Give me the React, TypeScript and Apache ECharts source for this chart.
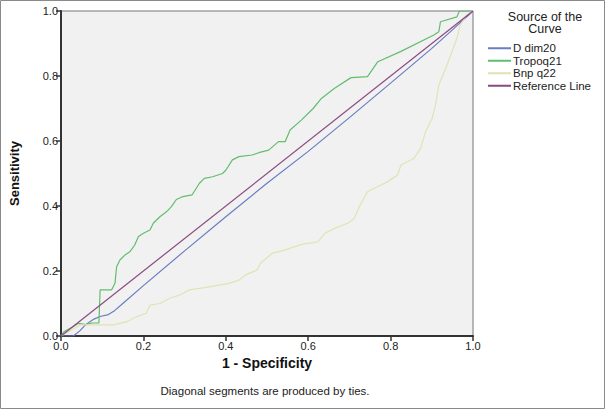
import React, { useEffect, useRef } from "react";
import * as echarts from "echarts";

const seriesNames = ["D dim20", "Tropoq21", "Bnp q22", "Reference Line"];
const xTicks = [0, 0.2, 0.4, 0.6, 0.8, 1.0];

const dDim20: number[][] = [
  [0, 0], [0.03, 0], [0.045, 0.015], [0.06, 0.035], [0.08, 0.052], [0.095, 0.06],
  [0.115, 0.066], [0.13, 0.078], [0.15, 0.1], [0.2, 0.155], [0.3, 0.262], [0.4, 0.367],
  [0.5, 0.47], [0.6, 0.568], [0.7, 0.672], [0.8, 0.778], [0.9, 0.885], [0.95, 0.942], [1, 1],
];

const tropoq21: number[][] = [
  [0, 0], [0.007, 0.013], [0.03, 0.029], [0.043, 0.039], [0.06, 0.035], [0.075, 0.04],
  [0.092, 0.04], [0.095, 0.142], [0.123, 0.142], [0.131, 0.162], [0.135, 0.213], [0.143, 0.234],
  [0.155, 0.249], [0.167, 0.259], [0.179, 0.28], [0.188, 0.306], [0.2, 0.316], [0.216, 0.326],
  [0.224, 0.347], [0.24, 0.367], [0.256, 0.382], [0.268, 0.398], [0.28, 0.42], [0.296, 0.429],
  [0.318, 0.434], [0.336, 0.47], [0.348, 0.485], [0.368, 0.49], [0.392, 0.5], [0.4, 0.51],
  [0.416, 0.542], [0.432, 0.552], [0.464, 0.557], [0.48, 0.564], [0.504, 0.572], [0.528, 0.598],
  [0.544, 0.598], [0.556, 0.634], [0.584, 0.665], [0.612, 0.7], [0.632, 0.731], [0.664, 0.762],
  [0.704, 0.795], [0.744, 0.798], [0.769, 0.844], [0.824, 0.875], [0.905, 0.926], [0.917, 0.936],
  [0.921, 0.967], [0.961, 0.982], [0.967, 1], [1, 1],
];

const bnpQ22: number[][] = [
  [0, 0], [0.047, 0.034], [0.127, 0.034], [0.16, 0.044], [0.183, 0.059], [0.207, 0.07],
  [0.216, 0.095], [0.24, 0.1], [0.264, 0.116], [0.288, 0.126], [0.312, 0.142], [0.344, 0.148],
  [0.376, 0.155], [0.408, 0.162], [0.432, 0.172], [0.448, 0.188], [0.476, 0.203], [0.484, 0.224],
  [0.512, 0.254], [0.544, 0.265], [0.584, 0.282], [0.624, 0.29], [0.64, 0.316], [0.664, 0.331],
  [0.696, 0.347], [0.712, 0.362], [0.724, 0.398], [0.744, 0.444], [0.769, 0.46], [0.793, 0.475],
  [0.817, 0.495], [0.825, 0.526], [0.857, 0.547], [0.873, 0.578], [0.885, 0.629], [0.901, 0.67],
  [0.909, 0.711], [0.917, 0.772], [0.937, 0.834], [0.949, 0.875], [0.961, 0.916], [0.969, 0.957],
  [0.985, 0.988], [1, 1],
];

const referenceLine: number[][] = [
  [0, 0], [1, 1],
];

const colors = ["#6a7cc2", "#62bd6e", "#e2e2b4", "#8a4a80"];
const FONT = "'Liberation Sans', Arial, sans-serif";

export default function App() {
  const ref = useRef<HTMLDivElement>(null);
  useEffect(() => {
    if (!ref.current) return;
    const chart = echarts.init(ref.current, undefined, { renderer: "svg" });
    const datasets = [dDim20, tropoq21, bnpQ22, referenceLine];
    chart.setOption({
      animation: false,
      backgroundColor: "#ffffff",
      textStyle: { fontFamily: FONT },
      grid: {
        left: 57,
        top: 11,
        width: 416,
        height: 325,
        show: true,
        backgroundColor: "#f1f1f1",
        borderColor: "#777777",
        borderWidth: 1,
      },
      legend: {
        orient: "vertical",
        left: 483,
        top: 37,
        itemWidth: 23,
        itemHeight: 2,
        itemGap: 0,
        icon: "rect",
        data: seriesNames,
        textStyle: { fontFamily: FONT, fontSize: 11.5, color: "#222", padding: [0, 0, 0, -3], lineHeight: 12.5 },
        selectedMode: false,
      },
      xAxis: {
        type: "value",
        min: 0,
        max: 1,
        interval: 0.2,
        name: "1 - Specificity",
        nameLocation: "middle",
        nameGap: 20,
        nameTextStyle: { fontFamily: FONT, fontSize: 14, fontWeight: "bold", color: "#111" },
        axisLine: { show: true, lineStyle: { color: "#333", width: 2 } },
        axisTick: { show: true, length: 5, lineStyle: { color: "#333", width: 1.5 } },
        axisLabel: {
          fontFamily: FONT,
          fontSize: 11,
          color: "#222",
          margin: 4,
          formatter: (v: number) => (xTicks.includes(Math.round(v * 10) / 10) ? v.toFixed(1) : ""),
        },
        splitLine: { show: false },
      },
      yAxis: {
        type: "value",
        min: 0,
        max: 1,
        interval: 0.2,
        name: "Sensitivity",
        nameLocation: "middle",
        nameGap: 40,
        nameTextStyle: { fontFamily: FONT, fontSize: 13, fontWeight: "bold", color: "#111" },
        axisLine: { show: true, lineStyle: { color: "#333", width: 2 } },
        axisTick: { show: true, length: 5, lineStyle: { color: "#333", width: 1.5 } },
        axisLabel: {
          fontFamily: FONT,
          fontSize: 11,
          color: "#222",
          margin: 3,
          formatter: (v: number) => v.toFixed(1),
        },
        splitLine: { show: false },
      },
      series: seriesNames.map((name, i) => ({
        name,
        type: "line",
        data: datasets[i],
        symbol: "none",
        color: colors[i],
        lineStyle: { width: 1.2, color: colors[i] },
        z: i === 3 ? 3 : 2,
      })),
      graphic: [
        {
          type: "rect",
          shape: { x: 0.5, y: 0.5, width: 604, height: 408 },
          style: { fill: "none", stroke: "#8a8a8a", lineWidth: 1 },
          silent: true,
        },
        {
          type: "text",
          x: 545,
          y: 23,
          style: {
            text: "Source of the\nCurve",
            fontFamily: FONT,
            fontSize: 12.5,
            lineHeight: 12.5,
            fill: "#222",
            align: "center",
            verticalAlign: "middle",
          },
        },
        {
          type: "text",
          x: 265,
          y: 391,
          style: {
            text: "Diagonal segments are produced by ties.",
            fontFamily: FONT,
            fontSize: 11.5,
            fill: "#222",
            align: "center",
            verticalAlign: "middle",
          },
        },
      ],
    });
    return () => chart.dispose();
  }, []);
  return (
    <div
      ref={ref}
      style={{ position: "absolute", left: 0, top: 0, width: 605, height: 409 }}
    />
  );
}
